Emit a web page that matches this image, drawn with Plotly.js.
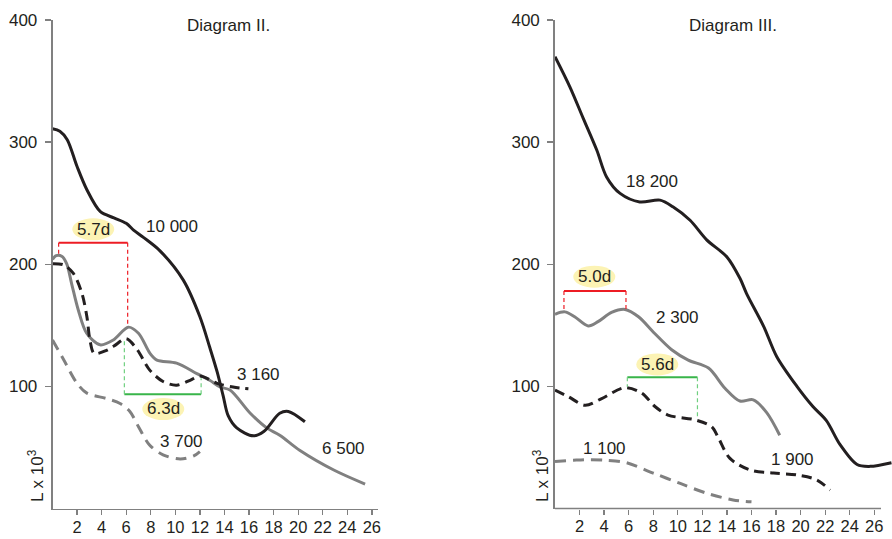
<!DOCTYPE html>
<html>
<head>
<meta charset="utf-8">
<script src="https://cdn.plot.ly/plotly-3.0.1.min.js"></script>
<style>html,body{margin:0;padding:0;background:#fff;}#chart{width:892px;height:539px;}</style>
</head>
<body>
<div id="chart"></div>
<script>
// ---------- Diagram II data ----------
const d2_10000_x = [0, 0.6, 1.2, 2.0, 2.8, 3.9, 5.0, 6.0, 6.6, 7.4, 8.75, 10.65, 12.0, 12.8, 13.4, 13.9, 14.3, 15.0, 16.35, 17.2, 18.5, 19.2, 20.55];
const d2_10000_y = [311, 309, 302, 280, 261, 243, 238, 233.5, 228, 222, 211, 187, 157, 132, 112, 92, 76, 66, 59.5, 63, 78, 79.5, 71];
const d2_6500_x = [0, 0.3, 0.75, 1.15, 1.56, 2.1, 2.78, 3.87, 4.95, 6.17, 7.0, 7.94, 8.5, 10.1, 11.75, 12.8, 13.64, 14.45, 16.1, 17.44, 18.5, 20.15, 22.9, 25.45];
const d2_6500_y = [204, 207, 206.5, 200.5, 184, 162.5, 143.5, 134, 138, 148.5, 143.5, 127, 121.5, 119, 110.5, 105, 99.5, 97, 78, 66, 60, 47.5, 31.5, 20];
const d2_3160_x = [0, 0.9, 1.7, 2.4, 2.8, 3.05, 3.4, 4.4, 5.0, 6.0, 6.9, 7.9, 9.0, 10.1, 11.2, 12.0, 13.4, 14.7, 15.95];
const d2_3160_y = [200.5, 199.5, 192.5, 176, 157, 138, 127, 129.5, 133, 139, 130, 113.5, 104, 101, 105, 108.5, 102.5, 99.5, 98];
const d2_3700_x = [0, 0.9, 2.0, 2.8, 4.4, 5.5, 6.3, 7.0, 7.9, 9.0, 10.4, 11.5, 12.0];
const d2_3700_y = [138, 122, 102.5, 94.5, 90, 86, 79.5, 67, 52, 44, 40.5, 43, 46.5];

// brackets: [xStart, xEnd, yBar, yLeftEnd, yRightEnd]
const d2_red = [0.5, 6.12, 217.6, 207, 150];
const d2_green = [5.85, 12.1, 93.5, 138, 106.6];

// labels
const d2_labels = ["10 000", "3 160", "3 700", "6 500"];
const d2_labels_x = [9.7, 16.76, 10.5, 23.7];
const d2_labels_y = [230.7, 110, 54.7, 49.3];
const d2_periods = ["5.7d", "6.3d"];
const d2_periods_x = [3.32, 9.02];
const d2_periods_y = [228.6, 81.5];

// ---------- Diagram III data ----------
const d3_18200_x = [0, 1.2, 2.3, 3.4, 4.2, 5.3, 6.9, 8.55, 9.6, 11.0, 12.35, 14.0, 15.06, 15.6, 17.0, 18.05, 19.7, 21.0, 22.1, 23.2, 24.6, 25.65, 27.4];
const d3_18200_y = [370, 345.5, 319.5, 293.5, 271.5, 258, 251, 252.5, 247, 236, 220, 206, 188.5, 176, 149, 124.5, 100, 83.5, 72, 52.5, 36, 34.5, 37.5];
const d3_2300_x = [0, 0.8, 1.6, 2.7, 3.5, 4.6, 5.7, 6.8, 8.1, 9.5, 10.85, 12.5, 13.84, 15.06, 16.15, 17.24, 18.3];
const d3_2300_y = [159, 161, 157, 149.5, 153, 160.5, 163, 157, 143.5, 130, 121.5, 115, 98.5, 88, 89, 78.5, 60];
const d3_1900_x = [0, 1.1, 2.45, 3.8, 5.7, 7.06, 8.14, 9.2, 11.45, 12.76, 13.3, 14.25, 15.9, 17.8, 19.7, 21.3, 22.4];
const d3_1900_y = [97, 91.5, 84.5, 90, 99, 94.5, 83.5, 76.5, 72.5, 67, 58, 41, 31.5, 29, 27.5, 23.5, 15];
const d3_1100_x = [0, 1.5, 2.6, 4.2, 5.8, 8.0, 10.2, 12.35, 14.5, 16.0];
const d3_1100_y = [38.5, 39.5, 40, 39.5, 37.5, 29, 20.5, 12.5, 7, 5.5];

const d3_red = [0.73, 5.78, 178, 161, 163];
const d3_green = [5.89, 11.6, 107.4, 99.7, 73];

const d3_labels = ["18 200", "2 300", "1 900", "1 100"];
const d3_labels_x = [7.87, 10.0, 19.3, 4.07];
const d3_labels_y = [268, 156.5, 40.5, 49.3];
const d3_periods = ["5.0d", "5.6d"];
const d3_periods_x = [3.2, 8.33];
const d3_periods_y = [189.8, 118];

// ticks
const xTicks = [2, 4, 6, 8, 10, 12, 14, 16, 18, 20, 22, 24, 26];
const yTicks = [100, 200, 300, 400];
const titles = ["Diagram II.", "Diagram III."];
const yTitle = "L x 10<sup>3</sup>";

// ---------- styles ----------
const FONT = '"Liberation Sans", Arial, Helvetica, sans-serif';
const TXT = '#231f20';
const BLACK = '#231f20';
const GREY = '#808080';
const RED = '#ed1c24';
const GREEN = '#39b54a';
const GREEN_D = '#6fcf7f';
const YELLOW = '#fcf3b4';
const FS = 17;

function curve(x, y, xa, ya, color, dash, w) {
  return {x: x, y: y, xaxis: xa, yaxis: ya, type: 'scatter', mode: 'lines',
    line: {color: color, width: w, dash: dash, shape: 'spline', smoothing: 0.9},
    hoverinfo: 'skip', showlegend: false};
}
function bracket(b, xa, ya, color, dcolor) {
  return [
    {x: [b[0], b[1]], y: [b[2], b[2]], xaxis: xa, yaxis: ya, type: 'scatter', mode: 'lines',
      line: {color: color, width: 2}, showlegend: false, hoverinfo: 'skip'},
    {x: [b[0], b[0]], y: [b[2], b[3]], xaxis: xa, yaxis: ya, type: 'scatter', mode: 'lines',
      line: {color: dcolor, width: 1.2, dash: '4px,3px'}, showlegend: false, hoverinfo: 'skip'},
    {x: [b[1], b[1]], y: [b[2], b[4]], xaxis: xa, yaxis: ya, type: 'scatter', mode: 'lines',
      line: {color: dcolor, width: 1.2, dash: '4px,3px'}, showlegend: false, hoverinfo: 'skip'}
  ];
}

const traces = [
  curve(d2_3700_x, d2_3700_y, 'x', 'y', GREY, '11px,7px', 3),
  curve(d2_6500_x, d2_6500_y, 'x', 'y', GREY, 'solid', 3),
  curve(d2_3160_x, d2_3160_y, 'x', 'y', BLACK, '10px,6px', 3),
  curve(d2_10000_x, d2_10000_y, 'x', 'y', BLACK, 'solid', 3),
  ...bracket(d2_red, 'x', 'y', RED, RED),
  ...bracket(d2_green, 'x', 'y', GREEN, GREEN_D),
  curve(d3_1100_x, d3_1100_y, 'x2', 'y2', GREY, '11px,7px', 3),
  curve(d3_2300_x, d3_2300_y, 'x2', 'y2', GREY, 'solid', 3),
  curve(d3_1900_x, d3_1900_y, 'x2', 'y2', BLACK, '10px,6px', 3),
  curve(d3_18200_x, d3_18200_y, 'x2', 'y2', BLACK, 'solid', 3),
  ...bracket(d3_red, 'x2', 'y2', RED, RED),
  ...bracket(d3_green, 'x2', 'y2', GREEN, GREEN_D)
];

const W = 892, H = 539;
const yDom = [(H - 508.5) / H, (H - 20) / H];

function xAxis(domain, range, anchor, showline) {
  return {domain: domain, range: range, anchor: anchor, tickvals: xTicks, ticktext: xTicks.map(String),
    ticks: 'outside', ticklen: 5, tickwidth: 1.3, tickcolor: GREY,
    showline: showline, linecolor: GREY, linewidth: 1.5,
    showgrid: false, zeroline: false, fixedrange: true,
    tickfont: {family: FONT, size: 16.5, color: TXT}, ticklabelstandoff: -2};
}
function yAxis(anchor) {
  return {domain: yDom, range: [0, 400], anchor: anchor, tickvals: yTicks, ticktext: yTicks.map(String),
    ticks: 'outside', ticklen: 6, tickwidth: 1.3, tickcolor: GREY,
    showline: true, linecolor: GREY, linewidth: 1.8,
    showgrid: false, zeroline: false, fixedrange: true,
    tickfont: {family: FONT, size: FS, color: TXT}, ticklabelstandoff: 4};
}

const annotations = [];
const shapes = [];
function addLabels(texts, xs, ys, xr, yr) {
  texts.forEach((t, i) => annotations.push({text: t, x: xs[i], y: ys[i], xref: xr, yref: yr,
    xanchor: 'center', yanchor: 'middle',
    showarrow: false, font: {family: FONT, size: FS, color: TXT}}));
}
function addPeriods(texts, xs, ys, xr, yr) {
  texts.forEach((t, i) => {
    shapes.push({type: 'circle', xref: xr, yref: yr, xsizemode: 'pixel', ysizemode: 'pixel',
      xanchor: xs[i], yanchor: ys[i], x0: -21, x1: 21, y0: -11, y1: 11,
      fillcolor: YELLOW, line: {width: 0}, layer: 'below'});
    annotations.push({text: t, x: xs[i], y: ys[i], xref: xr, yref: yr,
      xanchor: 'center', yanchor: 'middle',
      showarrow: false, font: {family: FONT, size: FS, color: TXT}});
  });
}
addLabels(d2_labels, d2_labels_x, d2_labels_y, 'x', 'y');
addPeriods(d2_periods, d2_periods_x, d2_periods_y, 'x', 'y');
addLabels(d3_labels, d3_labels_x, d3_labels_y, 'x2', 'y2');
addPeriods(d3_periods, d3_periods_x, d3_periods_y, 'x2', 'y2');

// titles
[[titles[0], 228], [titles[1], 733]].forEach(([t, px]) => annotations.push({text: t,
  x: px / W, y: 1 - 26 / H, xref: 'paper', yref: 'paper', xanchor: 'center', yanchor: 'middle',
  showarrow: false, font: {family: FONT, size: FS, color: TXT}}));
// y titles
[36 / W, 541 / W].forEach(px => annotations.push({text: yTitle, x: px, y: 1 - 476 / H,
  xref: 'paper', yref: 'paper', xanchor: 'center', yanchor: 'middle',
  showarrow: false, textangle: -90,
  font: {family: FONT, size: FS, color: TXT}}));

// x-axis line of Diagram III (stops short of the plot edge)
shapes.push({type: 'line', xref: 'paper', yref: 'paper', x0: 555 / W, x1: 881 / W,
  y0: yDom[0], y1: yDom[0], line: {color: GREY, width: 1.5}});

const layout = {
  width: W, height: H, autosize: false,
  margin: {l: 0, r: 0, t: 0, b: 0, pad: 0},
  paper_bgcolor: '#ffffff', plot_bgcolor: 'rgba(0,0,0,0)',
  showlegend: false,
  xaxis: xAxis([52.5 / W, 378 / W], [0, 26.5], 'y', true),
  yaxis: yAxis('x'),
  xaxis2: xAxis([555 / W, 1], [0, 337 / 12.28], 'y2', false),
  yaxis2: yAxis('x2'),
  annotations: annotations,
  shapes: shapes
};

Plotly.newPlot('chart', traces, layout, {staticPlot: true, displayModeBar: false});
</script>
</body>
</html>
